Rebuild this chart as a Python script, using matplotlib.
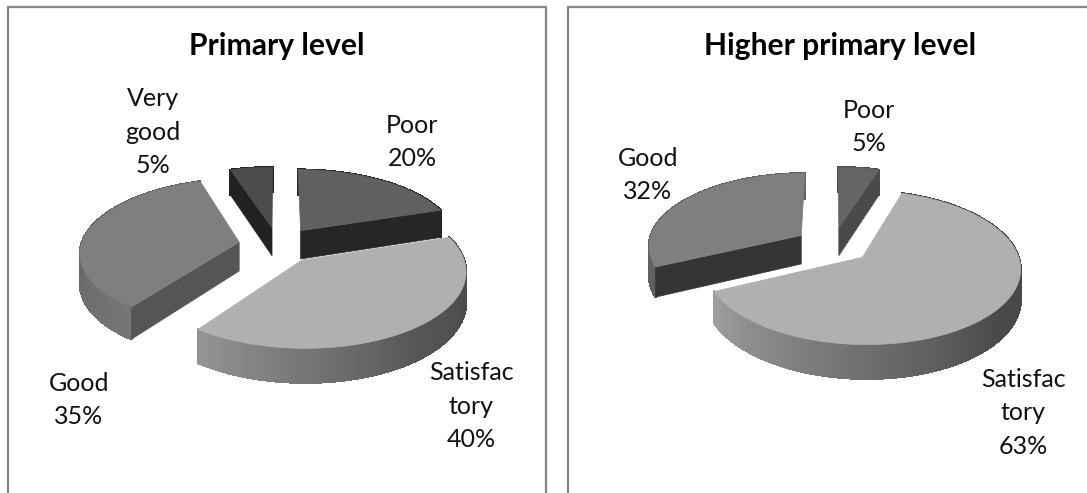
import numpy as np
import matplotlib
matplotlib.use("Agg")
import matplotlib.pyplot as plt
from matplotlib.patches import Polygon
from matplotlib.collections import PolyCollection

# ---- data ----
primary_names = ["Poor", "Satisfac\ntory", "Good", "Very\ngood"]
primary_values = [20, 40, 35, 5]
higher_names = ["Poor", "Satisfac\ntory", "Good"]
higher_values = [5, 63, 32]

# ---- styles ----
plt.rcParams["font.family"] = ["Lato", "DejaVu Sans"]
W, H = 1087, 493
RY, PERSP, DEPTH, EXPLODE = 72.5, 0.13, 29, 0.25
BORDER = "#868686"

primary_style = [
    dict(top="#606060", face="#262626", rim=(.16, .16, .16)),
    dict(top="#b0b0b0", face="#666666", rim=(.25, .34, .58)),
    dict(top="#7f7f7f", face="#555555", rim=(.46, .40, .37)),
    dict(top="#4c4c4c", face="#222222", rim=(.14, .14, .14)),
]
higher_style = [
    dict(top="#656565", face="#4a4a4a", rim=(.29, .29, .29)),
    dict(top="#b0b0b0", face="#666666", rim=(.25, .29, .62)),
    dict(top="#7f7f7f", face="#353535", rim=(.38, .38, .38)),
]
primary_labels = [(412, 142), (471, 406), (79, 400), (153, 132)]
higher_labels = [(869, 127), (1023, 413), (648, 175)]

fig = plt.figure(figsize=(W / 100, H / 100), dpi=100)
ax = fig.add_axes([0, 0, 1, 1])
ax.set_xlim(0, W)
ax.set_ylim(H, 0)
ax.axis("off")


def draw_pie(cx, cy, rx, values, names, styles, label_pos, title, title_x):
    def project(u, v, z=0.0):
        s = 1 / (1 + PERSP * v)
        return cx + rx * u * s, cy - RY * v * s + z * DEPTH * s

    fracs = np.array(values, float) / sum(values) * 360
    ends = np.cumsum(fracs)
    starts = ends - fracs
    wedges = []
    for t1, t2, st, nm, val, lp in zip(starts, ends, styles, names, values, label_pos):
        mid = np.radians((t1 + t2) / 2)
        du, dv = EXPLODE * np.sin(mid), EXPLODE * np.cos(mid)
        wedges.append((dv, t1, t2, st, du))
        ax.text(lp[0], lp[1], f"{nm}\n{val}%", ha="center", va="center",
                fontsize=18, color="#111111", linespacing=1.55)
    # painter's order: farthest wedge first
    for z_order, (dv, t1, t2, st, du) in enumerate(sorted(wedges, key=lambda w: -w[0])):
        zo = 3 + z_order
        th = np.radians(np.linspace(t1, t2, 161))
        u, v = du + np.sin(th), dv + np.cos(th)
        # rim
        xt, yt = project(u, v, 0)
        xb, yb = project(u, v, 1)
        grays = np.interp(np.linspace(0, 1, len(th) - 1), [0, .5, 1], st["rim"])
        quads = [[(xt[i], yt[i]), (xt[i + 1], yt[i + 1]), (xb[i + 1], yb[i + 1]), (xb[i], yb[i])]
                 for i in range(len(th) - 1)]
        cols = [(g, g, g) for g in grays]
        ax.add_collection(PolyCollection(quads, facecolors=cols, edgecolors=cols,
                                         linewidths=1.0, antialiased=False, zorder=zo))
        ax0, ay0 = project(du, dv, 0)
        bx0, by0 = project(du, dv, 1)
        # cut faces turned towards the viewer
        for ang, visible in ((t1, np.sin(np.radians(t1)) < -1e-6),
                             (t2, np.sin(np.radians(t2)) > 1e-6)):
            if visible:
                a = np.radians(ang)
                ex, ey = project(du + np.sin(a), dv + np.cos(a), 0)
                fx, fy = project(du + np.sin(a), dv + np.cos(a), 1)
                ax.add_patch(Polygon([(ax0, ay0), (ex, ey), (fx, fy), (bx0, by0)],
                                     closed=True, fc=st["face"], ec=st["face"], lw=.5, zorder=zo))
        # top
        ax.add_patch(Polygon(np.column_stack([np.r_[ax0, xt], np.r_[ay0, yt]]), closed=True,
                             fc=st["top"], ec=st["top"], lw=.5, zorder=zo + 0.5))
    ax.text(title_x, 46, title, ha="center", va="center", fontsize=21.6,
            fontweight="bold", color="#000000")


draw_pie(278, 245, 158, primary_values, primary_names, primary_style, primary_labels,
         "Primary level", 277)
draw_pie(833, 245, 153, higher_values, higher_names, higher_style, higher_labels,
         "Higher primary level", 840)

for xs, ys in (([8, 8, 545.5, 545.5], [H, 7, 7, H]), ([568, 568, W], [H, 7, 7])):
    ax.plot(xs, ys, color=BORDER, lw=1.6, solid_joinstyle="miter", zorder=1)

fig.savefig("out.png", dpi=100, facecolor="white")
